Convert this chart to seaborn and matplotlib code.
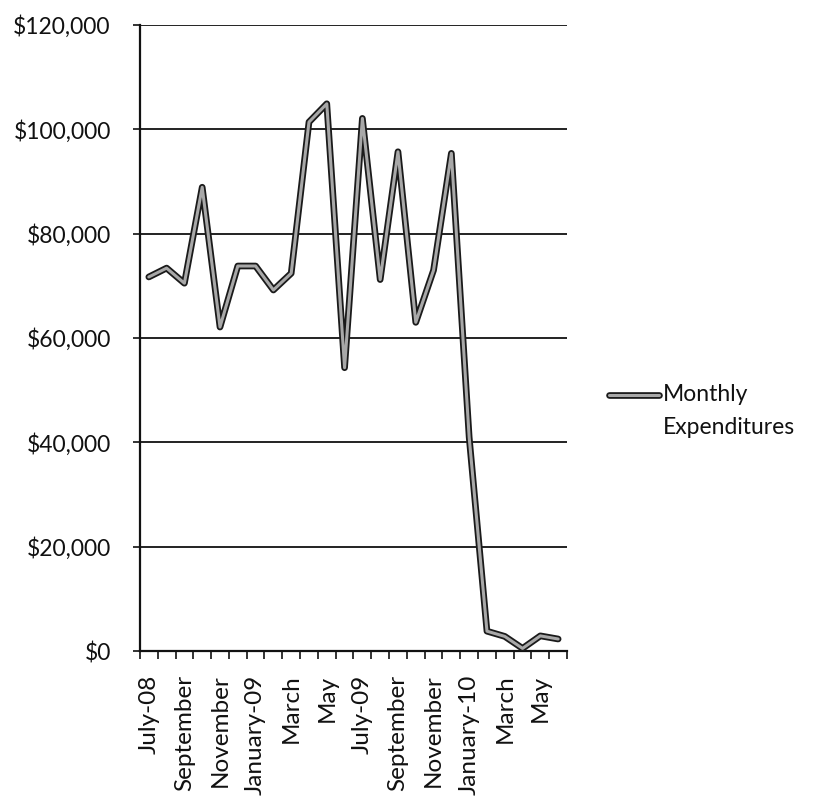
import matplotlib
matplotlib.use("Agg")
import matplotlib.pyplot as plt
import matplotlib.patheffects as pe
from matplotlib.legend_handler import HandlerLine2D
from matplotlib.ticker import FixedLocator, NullFormatter
import numpy as np
import pandas as pd
import seaborn as sns

# Monthly spending, July 2008 through June 2010
months = [
    "July-08", "August-08", "September-08", "October-08", "November-08", "December-08",
    "January-09", "February-09", "March-09", "April-09", "May-09", "June-09",
    "July-09", "August-09", "September-09", "October-09", "November-09", "December-09",
    "January-10", "February-10", "March-10", "April-10", "May-10", "June-10",
]
expenditures = [
    71700, 73400, 70500, 88900, 62100, 73800,
    73800, 69200, 72400, 101400, 104900, 54300,
    102100, 71200, 95700, 63000, 73000, 95400,
    41000, 3800, 2800, 500, 2900, 2300,
]
tick_labels = ["July-08", "September", "November", "January-09", "March", "May",
               "July-09", "September", "November", "January-10", "March", "May"]
y_ticks = [0, 20000, 40000, 60000, 80000, 100000, 120000]
series_name = "Monthly\nExpenditures"

df = pd.DataFrame({"idx": np.arange(len(months)), "month": months,
                   "value": expenditures})

sns.set_theme(style="white")
plt.rcParams["font.family"] = ["Lato", "DejaVu Sans"]
FS = 16.5
FS_X = 17.5

fig = plt.figure(figsize=(8.23, 8.09), dpi=100)
ax = fig.add_axes([0.170, 0.1953, 0.519, 0.7738])

outline = [pe.Stroke(linewidth=4.8, foreground="#1a1a1a"), pe.Normal()]
sns.lineplot(data=df, x="idx", y="value", ax=ax, color="#a8a8a8", linewidth=2.2,
             label=series_name, path_effects=outline, legend=False,
             solid_joinstyle="round", solid_capstyle="round", zorder=5)

ax.set_xlim(-0.5, len(months) - 0.5)
ax.set_ylim(0, 120000)

# y axis: dollar labels and black gridlines
ax.set_yticks(y_ticks)
ax.set_yticklabels([f"${v:,.0f}" for v in y_ticks], fontsize=FS, color="#111111")
ax.yaxis.grid(True, color="#111111", linewidth=1.3)
ax.tick_params(axis="y", direction="out", length=5, width=1.2, color="#111111",
               pad=16, left=True)

# x axis: tick marks between categories, labels on every other month
ax.xaxis.set_major_locator(FixedLocator(np.arange(-0.5, len(months), 1.0)))
ax.xaxis.set_major_formatter(NullFormatter())
ax.xaxis.set_minor_locator(FixedLocator(np.arange(0, len(months), 2)))
ax.set_xticklabels(tick_labels, minor=True, rotation=90, fontsize=FS_X,
                   color="#111111")
ax.tick_params(axis="x", which="major", direction="out", length=6, width=1.2,
               color="#111111", bottom=True)
ax.tick_params(axis="x", which="minor", length=0, pad=17, bottom=True)
ax.xaxis.grid(False)
ax.set_xlabel("")
ax.set_ylabel("")

for side in ("top", "right"):
    ax.spines[side].set_visible(False)
for side in ("left", "bottom"):
    ax.spines[side].set_color("#111111")
    ax.spines[side].set_linewidth(1.6)
ax.set_axisbelow(True)


class FirstLineHandler(HandlerLine2D):
    """Line sample placed beside the first line of a two-line label."""

    def __init__(self, shift, **kw):
        super().__init__(**kw)
        self.shift = shift

    def create_artists(self, legend, orig_handle, xdescent, ydescent, width,
                       height, fontsize, trans):
        artists = super().create_artists(legend, orig_handle, xdescent, ydescent,
                                         width, height, fontsize, trans)
        for a in artists:
            a.set_ydata(np.asarray(a.get_ydata(), dtype=float) + self.shift)
        return artists


handle = ax.lines[0]
leg = fig.legend([handle], [series_name], loc="center left",
                 bbox_to_anchor=(0.7265, 0.492), frameon=False, fontsize=FS,
                 handlelength=2.15, handletextpad=0.2, borderpad=0,
                 handler_map={handle: FirstLineHandler(shift=11.5)})
for t in leg.get_texts():
    t.set_linespacing(1.7)
    t.set_color("#111111")

fig.savefig("out.png", dpi=100, facecolor="white")
